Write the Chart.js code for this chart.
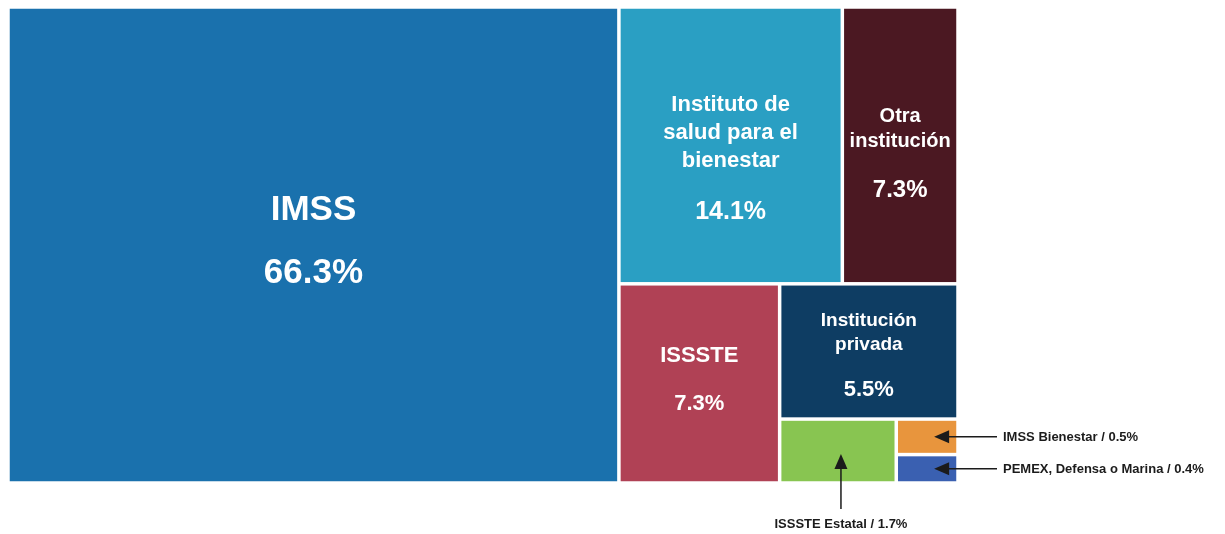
<!DOCTYPE html>
<html lang="es">
<head>
<meta charset="utf-8">
<title>Institución de afiliación</title>
<script src="https://cdn.jsdelivr.net/npm/chart.js@4.4.1/dist/chart.umd.min.js"></script>
<style>
  html, body { margin: 0; padding: 0; background: #fff; }
  #wrap { width: 1225px; height: 534px; }
</style>
</head>
<body>
<div id="wrap"><canvas id="treemap" width="1225" height="534"></canvas></div>
<script>
// Datos del treemap
const categories = ['IMSS', 'Instituto de salud para el bienestar', 'Otra institución', 'ISSSTE',
    'Institución privada', 'ISSSTE Estatal', 'IMSS Bienestar', 'PEMEX, Defensa o Marina'];
const values = [66.3, 14.1, 7.3, 7.3, 5.5, 1.7, 0.5, 0.4];
const labelLines = [['IMSS'], ['Instituto de', 'salud para el', 'bienestar'], ['Otra', 'institución'],
    ['ISSSTE'], ['Institución', 'privada'], null, null, null];
const colors = ['#1a71ad', '#2a9fc3', '#4b1822', '#b04155', '#0e3d63', '#88c551', '#e8953d', '#3a60b1'];

// Orden de division: 'h' = lado a lado, 'v' = apilado
const splitTree = ['h', 0, ['v', ['h', 1, 2], ['h', 3, ['v', 4, ['h', 5, ['v', 6, 7]]]]]];

// Etiquetas externas con flecha
const calloutItems = [6, 7, 5];

// Estilo de las etiquetas internas (tamaños en px)
const labelStyle = {
    0: { name: 35, step: 40, value: 35, gap: 63, dy: -6 },
    1: { name: 22, step: 28, value: 25, gap: 52, dy: 12 },
    2: { name: 20, step: 25, value: 24, gap: 50, dy: 7 },
    3: { name: 22, step: 28, value: 22, gap: 48, dy: -5 },
    4: { name: 19, step: 24, value: 22, gap: 46, dy: 3 }
};

function nodeSum(node) {
    if (typeof node === 'number') return values[node];
    return node.slice(1).reduce((s, c) => s + nodeSum(c), 0);
}

function layoutNode(node, x0, y0, x1, y1, out) {
    if (typeof node === 'number') {
        out[node] = { x0, y0, x1, y1 };
        return;
    }
    const dir = node[0];
    const total = nodeSum(node);
    let pos = dir === 'h' ? x0 : y0;
    node.slice(1).forEach(k => {
        const span = (dir === 'h' ? x1 - x0 : y1 - y0) * nodeSum(k) / total;
        if (dir === 'h') layoutNode(k, pos, y0, pos + span, y1, out);
        else layoutNode(k, x0, pos, x1, pos + span, out);
        pos += span;
    });
}

const rects = [];
layoutNode(splitTree, 0, 0, 100, 100, rects);

const fmt = v => v.toFixed(1) + '%';
const FONT = '"Liberation Sans", Arial, sans-serif';

function drawArrow(ctx, fx, fy, tx, ty) {
    const ang = Math.atan2(ty - fy, tx - fx);
    const len = 15, half = 6.5;
    ctx.strokeStyle = '#1b1b1b';
    ctx.fillStyle = '#1b1b1b';
    ctx.lineWidth = 1.5;
    ctx.beginPath();
    ctx.moveTo(fx, fy);
    ctx.lineTo(tx - Math.cos(ang) * len * 0.8, ty - Math.sin(ang) * len * 0.8);
    ctx.stroke();
    ctx.beginPath();
    ctx.moveTo(tx, ty);
    ctx.lineTo(tx - Math.cos(ang) * len - Math.sin(ang) * half, ty - Math.sin(ang) * len + Math.cos(ang) * half);
    ctx.lineTo(tx - Math.cos(ang) * len + Math.sin(ang) * half, ty - Math.sin(ang) * len - Math.cos(ang) * half);
    ctx.closePath();
    ctx.fill();
}

const treemapPlugin = {
    id: 'treemapCells',
    afterDatasetsDraw(chart) {
        const { ctx, scales: { x, y }, chartArea } = chart;
        const inset = 1.75;
        ctx.save();
        const px = rects.map(r => ({
            left: x.getPixelForValue(r.x0), right: x.getPixelForValue(r.x1),
            top: y.getPixelForValue(r.y0), bottom: y.getPixelForValue(r.y1)
        }));

        // celdas
        px.forEach((p, i) => {
            ctx.fillStyle = colors[i];
            ctx.fillRect(p.left + inset, p.top + inset, p.right - p.left - 2 * inset, p.bottom - p.top - 2 * inset);
        });

        // etiquetas internas
        ctx.fillStyle = '#ffffff';
        ctx.textAlign = 'center';
        ctx.textBaseline = 'alphabetic';
        px.forEach((p, i) => {
            const lines = labelLines[i];
            const st = labelStyle[i];
            if (!lines || !st) return;
            const cx = (p.left + p.right) / 2;
            const cy = (p.top + p.bottom) / 2 + st.dy;
            const capTop = st.name * 0.72;
            const extent = capTop + (lines.length - 1) * st.step + st.gap;
            let base = cy - extent / 2 + capTop;
            ctx.font = `bold ${st.name}px ${FONT}`;
            lines.forEach((ln, k) => ctx.fillText(ln, cx, base + k * st.step));
            ctx.font = `bold ${st.value}px ${FONT}`;
            ctx.fillText(fmt(values[i]), cx, base + (lines.length - 1) * st.step + st.gap);
        });

        // etiquetas externas
        ctx.font = `bold 13px ${FONT}`;
        ctx.textBaseline = 'middle';
        calloutItems.forEach(i => {
            const p = px[i];
            const cx = (p.left + p.right) / 2;
            const cy = (p.top + p.bottom) / 2;
            const text = categories[i] + ' / ' + fmt(values[i]);
            if (p.right >= chartArea.right - 1) {
                drawArrow(ctx, chartArea.right + 39, cy, cx + 7, cy);
                ctx.textAlign = 'left';
                ctx.fillStyle = '#1b1b1b';
                ctx.fillText(text, chartArea.right + 45, cy + 1);
            } else {
                drawArrow(ctx, cx + 3, chartArea.bottom + 26, cx + 3, cy + 3);
                ctx.textAlign = 'center';
                ctx.fillStyle = '#1b1b1b';
                ctx.fillText(text, cx + 3, chartArea.bottom + 41);
            }
        });
        ctx.restore();
    }
};

new Chart(document.getElementById('treemap'), {
    type: 'scatter',
    data: {
        datasets: [{
            label: 'Institución',
            data: rects.map((r, i) => ({ x: (r.x0 + r.x1) / 2, y: (r.y0 + r.y1) / 2, v: values[i] })),
            pointRadius: 0,
            pointHoverRadius: 0
        }]
    },
    options: {
        responsive: false,
        animation: false,
        devicePixelRatio: 1,
        layout: { padding: { left: 8, right: 267, top: 7, bottom: 51 } },
        plugins: { legend: { display: false }, tooltip: { enabled: false } },
        scales: {
            x: { type: 'linear', min: 0, max: 100, display: false },
            y: { type: 'linear', min: 0, max: 100, reverse: true, display: false }
        }
    },
    plugins: [treemapPlugin]
});
</script>
</body>
</html>
